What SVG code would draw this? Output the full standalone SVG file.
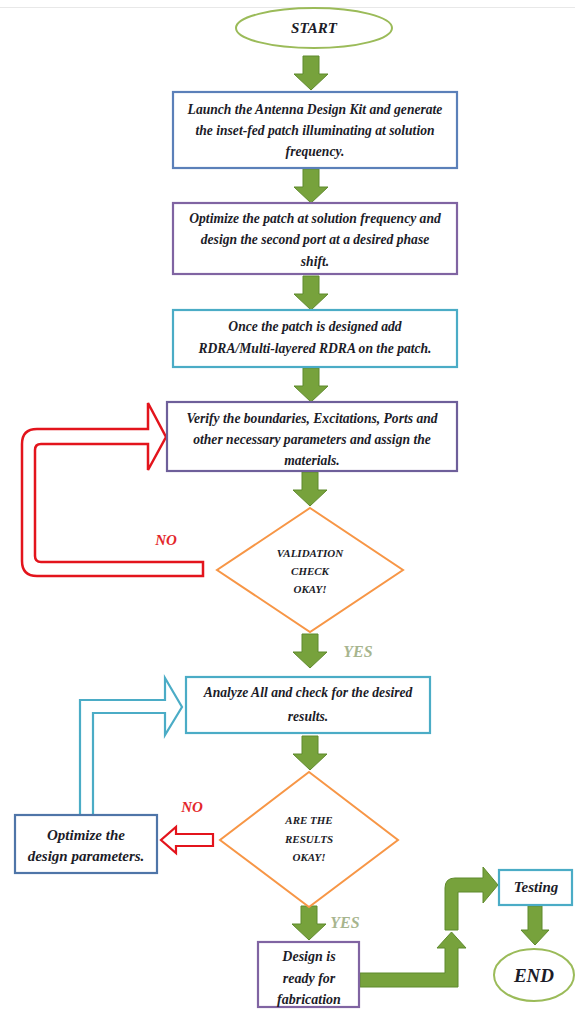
<svg xmlns="http://www.w3.org/2000/svg" width="575" height="1015" viewBox="0 0 575 1015">
<style>
.t{font-family:"Liberation Serif","Times New Roman",serif;font-weight:bold;font-style:italic;fill:#1c1c28;text-anchor:middle}
.b{font-size:13.6px}
.d{font-size:11px}
.bx{fill:#fff;stroke-width:2.2}
.ga{fill:#77a23c;stroke:#5f8a2c;stroke-width:1}
.lbl{font-family:"Liberation Serif","Times New Roman",serif;font-weight:bold;font-style:italic;text-anchor:middle}
</style>
<defs>
<path id="dn" d="M-8,0 H8 V18 H17 L0,34 L-17,18 H-8 Z"/>
</defs>
<rect width="575" height="1015" fill="#fff"/>
<line x1="0" y1="7.5" x2="575" y2="7.5" stroke="#e8e8e8" stroke-width="1"/>

<g id="connectors">
<use href="#dn" class="ga" transform="translate(311,56)"/>
<use href="#dn" class="ga" transform="translate(311,169)"/>
<use href="#dn" class="ga" transform="translate(311,276)"/>
<use href="#dn" class="ga" transform="translate(311,368)"/>
<use href="#dn" class="ga" transform="translate(310,472)"/>
<use href="#dn" class="ga" transform="translate(310,634)"/>
<use href="#dn" class="ga" transform="translate(310,736)"/>
<use href="#dn" class="ga" transform="translate(309,906)"/>
<path class="ga" d="M528,906 H542 V930 H549 L535,945 L521,930 H528 Z"/>
<path class="ga" d="M360,973 H445 V948 H437 L451.5,932 L466,948 H458 V987 H360 Z"/>
<path class="ga" d="M445,930 V888 Q445,878 455,878 H483 V867 L498,885 L483,903 V892 H458 V930 Z"/>
<path d="M203,576 H37 Q22,576 22,561 V444 Q22,429 37,429 H148 V403 L166,437 L148,470 V444 H41 Q35,444 35,450 V556 Q35,562 41,562 H203 Z" fill="#fff" stroke="#e3141c" stroke-width="2.5" stroke-linejoin="miter"/>
<path d="M80,815 V700 H165 V678 L182,707 L165,735 V713 H93 V815 Z" fill="#fff" stroke="#4bacc6" stroke-width="2.2"/>
<path d="M213,834 H176 V827 L161,840 L176,853 V846 H213 Z" fill="#fff" stroke="#e3141c" stroke-width="2.2"/>
<text class="lbl" x="166" y="545" font-size="15" fill="#e3262a">NO</text>
<text class="lbl" x="192" y="812" font-size="15" fill="#e3262a">NO</text>
<text class="lbl" x="358" y="657" font-size="16" fill="#a7b58e" font-weight="normal">YES</text>
<text class="lbl" x="345" y="928" font-size="16" fill="#a7b58e" font-weight="normal">YES</text>
</g>

<g id="start">
<ellipse cx="314" cy="28" rx="78" ry="20" fill="#fff" stroke="#9bbb59" stroke-width="2"/>
<text class="t" x="314" y="33" font-size="15">START</text>
</g>

<g id="launch">
<rect class="bx" x="173" y="92" width="284" height="76" stroke="#5b80b9"/>
<text class="t b" x="315" y="114">Launch the Antenna Design Kit and generate</text>
<text class="t b" x="315" y="135">the inset-fed patch illuminating at solution</text>
<text class="t b" x="315" y="156">frequency.</text>
</g>

<g id="optimize-patch">
<rect class="bx" x="173" y="203" width="284" height="71" stroke="#8064a2"/>
<text class="t b" x="315" y="223">Optimize the patch at solution frequency and</text>
<text class="t b" x="315" y="244">design the second port at a desired phase</text>
<text class="t b" x="315" y="266">shift.</text>
</g>

<g id="add-rdra">
<rect class="bx" x="173" y="310" width="284" height="57" stroke="#4bacc6"/>
<text class="t b" x="315" y="331">Once the patch is designed add</text>
<text class="t b" x="315" y="353">RDRA/Multi-layered RDRA on the patch.</text>
</g>

<g id="verify">
<rect class="bx" x="167" y="402" width="290" height="69" stroke="#6e5f9a"/>
<text class="t b" x="312" y="423">Verify the boundaries, Excitations, Ports and</text>
<text class="t b" x="312" y="444">other necessary parameters and assign the</text>
<text class="t b" x="312" y="465">materials.</text>
</g>

<g id="validation">
<polygon points="310,508 403,570 310,632 217,570" fill="#fff" stroke="#f79646" stroke-width="2"/>
<text class="t d" x="310" y="557">VALIDATION</text>
<text class="t d" x="310" y="575">CHECK</text>
<text class="t d" x="310" y="593">OKAY!</text>
</g>

<g id="analyze">
<rect class="bx" x="186" y="677" width="244" height="56" stroke="#4bacc6"/>
<text class="t b" x="308" y="697">Analyze All and check for the desired</text>
<text class="t b" x="308" y="721">results.</text>
</g>

<g id="results">
<polygon points="309,772 398,840 309,907 220,840" fill="#fff" stroke="#f79646" stroke-width="2"/>
<text class="t d" x="309" y="824">ARE THE</text>
<text class="t d" x="309" y="843">RESULTS</text>
<text class="t d" x="309" y="861">OKAY!</text>
</g>

<g id="optimize-design">
<rect class="bx" x="15" y="815" width="142" height="58" stroke="#4f75a8"/>
<text class="t" x="86" y="840" font-size="15">Optimize the</text>
<text class="t" x="86" y="861" font-size="15">design parameters.</text>
</g>

<g id="design-ready">
<rect class="bx" x="258" y="942" width="101" height="65" stroke="#8064a2"/>
<text class="t" x="309" y="961" font-size="14">Design is</text>
<text class="t" x="309" y="983" font-size="14">ready for</text>
<text class="t" x="309" y="1004" font-size="14">fabrication</text>
</g>

<g id="testing">
<rect class="bx" x="499" y="870" width="73" height="35" stroke="#4bacc6"/>
<text class="t" x="536" y="892" font-size="15">Testing</text>
</g>

<g id="end">
<ellipse cx="534" cy="975" rx="40" ry="26" fill="#fff" stroke="#9bbb59" stroke-width="2"/>
<text class="t" x="534" y="982" font-size="19">END</text>
</g>
</svg>
